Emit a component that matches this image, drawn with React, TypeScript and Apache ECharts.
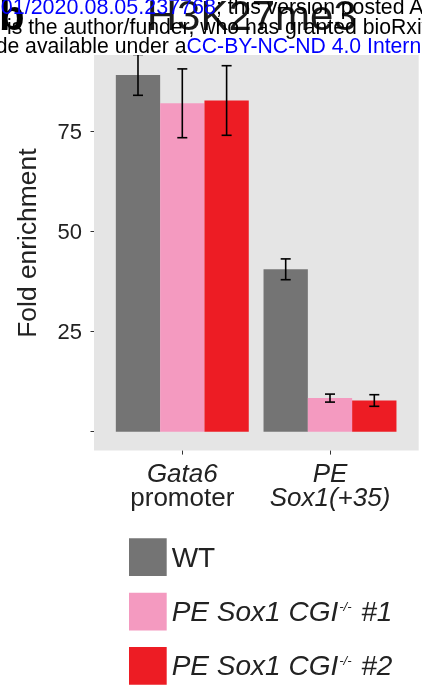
import React, { useEffect, useRef } from 'react';
import * as echarts from 'echarts';

// ---- data ----
const categories = ['Gata6 promoter', 'PE Sox1(+35)'];
const seriesNames = ['WT', 'PE Sox1 CGI-/- #1', 'PE Sox1 CGI-/- #2'];
const wtValues = [89.2, 40.6];
const cgi1Values = [82.1, 8.4];
const cgi2Values = [82.8, 7.8];
const wtErrors = [5.1, 2.6];
const cgi1Errors = [8.6, 1.0];
const cgi2Errors = [8.7, 1.45];
const yMin = 0;
const yMax = 100;
const yInterval = 25;
const hiddenTickLabels = [0, 100];
const colors = ['#747474', '#F49AC0', '#ED1C24'];

const FONT = '"Liberation Sans", Arial, Helvetica, sans-serif';
const TEXT = '#222222';

const categoryLabels: Record<string, string> = {
  'Gata6 promoter': '{i|Gata6}\n{n|promoter}',
  'PE Sox1(+35)': '{i|PE}\n{i|Sox1(+35)}',
};

function legendLabel(name: string): string {
  const m = name.match(/^(.*CGI)(-\/-)(.*)$/);
  if (!m) return `{n|${name}}`;
  return `{i|${m[1]}}{s|${m[2]}}{i|${m[3]}}`;
}

const valueSets = [wtValues, cgi1Values, cgi2Values];
const errorSets = [wtErrors, cgi1Errors, cgi2Errors];

export default function App() {
  const ref = useRef<HTMLDivElement>(null);

  useEffect(() => {
    if (!ref.current) return;
    const chart = echarts.init(ref.current, null, { renderer: 'svg' });

    const errorData: number[][] = [];
    valueSets.forEach((vals, si) => {
      vals.forEach((v, ci) => {
        const e = errorSets[si][ci];
        errorData.push([ci, v - e, v + e, si]);
      });
    });

    const barSeries = seriesNames.map((name, si) => ({
      name,
      type: 'bar',
      xAxisIndex: 1,
      yAxisIndex: 1,
      data: valueSets[si],
      barGap: '0%',
      barCategoryGap: '10%',
      itemStyle: { color: colors[si] },
      z: 2,
    }));

    const baseline = (b: number, fs: number) => b - 0.3465 * fs;
    const HFS = 21.2;

    const option: any = {
      animation: false,
      grid: [
        {
          left: 94,
          right: 3.3,
          top: 35.7,
          bottom: 245.4,
          show: true,
          backgroundColor: '#E5E5E5',
          borderWidth: 0,
        },
        {
          left: 108.45,
          right: 18.15,
          top: 31.7,
          bottom: 264.3,
          show: false,
        },
      ],
      xAxis: [
        { gridIndex: 0, type: 'value', show: false },
        {
          gridIndex: 1,
          type: 'category',
          data: categories,
          offset: 18.9,
          axisLine: { show: false, onZero: false },
          axisTick: { show: true, alignWithLabel: true, length: 4, lineStyle: { color: '#333', width: 1 } },
          axisLabel: {
            margin: 10.4,
            formatter: (v: string) => categoryLabels[v] ?? v,
            rich: {
              i: { fontFamily: FONT, fontSize: 26, fontStyle: 'italic', color: TEXT, lineHeight: 24 },
              n: { fontFamily: FONT, fontSize: 26, color: TEXT, lineHeight: 24 },
            },
          },
          splitLine: { show: false },
        },
      ],
      yAxis: [
        {
          gridIndex: 0,
          type: 'value',
          show: true,
          axisLine: { show: false },
          axisTick: { show: false },
          axisLabel: { show: false },
          splitLine: { show: false },
          name: 'Fold enrichment',
          nameLocation: 'middle',
          nameGap: 54,
          nameTextStyle: { fontSize: 26.4, fontFamily: FONT, color: TEXT },
        },
        {
          gridIndex: 1,
          type: 'value',
          min: yMin,
          max: yMax,
          interval: yInterval,
          offset: 14.45,
          axisLine: { show: false },
          axisTick: { show: true, length: 3.5, lineStyle: { color: '#333', width: 1 } },
          axisLabel: {
            margin: 12,
            fontSize: 22,
            fontFamily: FONT,
            color: TEXT,
            formatter: (v: number) => (hiddenTickLabels.includes(v) ? '' : String(v)),
          },
          splitLine: { show: false },
        },
      ],
      legend: {
        data: seriesNames,
        orient: 'vertical',
        left: 129,
        top: 538.3,
        padding: 0,
        itemWidth: 37.7,
        itemHeight: 37.7,
        itemGap: 16.7,
        icon: 'rect',
        selectedMode: false,
        formatter: legendLabel,
        textStyle: {
          fontFamily: FONT,
          fontSize: 28,
          color: TEXT,
          rich: {
            n: { fontFamily: FONT, fontSize: 28, color: TEXT, lineHeight: 30 },
            i: { fontFamily: FONT, fontSize: 28, fontStyle: 'italic', color: TEXT, lineHeight: 30 },
            s: { fontFamily: FONT, fontSize: 13, fontStyle: 'italic', color: TEXT, lineHeight: 13, verticalAlign: 'top', padding: [3, 2, 0, 1] },
          },
        },
      },
      series: [
        ...barSeries,
        {
          type: 'custom',
          xAxisIndex: 1,
          yAxisIndex: 1,
          z: 3,
          data: errorData,
          encode: { x: 0, y: [1, 2] },
          renderItem: (params: any, api: any) => {
            const ci = api.value(0);
            const lo = api.value(1);
            const hi = api.value(2);
            const si = api.value(3);
            const pLo = api.coord([ci, lo]);
            const pHi = api.coord([ci, hi]);
            const band = api.size([1, 0])[0];
            const barW = (band * 0.9) / 3;
            const x = pLo[0] + (si - 1) * barW;
            const cap = barW * 0.113;
            const style = { stroke: '#000', lineWidth: 1.6, fill: 'none' };
            return {
              type: 'group',
              children: [
                { type: 'line', shape: { x1: x, y1: pHi[1], x2: x, y2: pLo[1] }, style },
                { type: 'line', shape: { x1: x - cap, y1: pHi[1], x2: x + cap, y2: pHi[1] }, style },
                { type: 'line', shape: { x1: x - cap, y1: pLo[1], x2: x + cap, y2: pLo[1] }, style },
              ],
            };
          },
        },
      ],
      graphic: [
        { type: 'rect', z: 100, shape: { x: 0, y: 0, width: 422, height: 55 }, style: { fill: '#ffffff' } },
        {
          type: 'text', z: 101, x: -1, y: baseline(30, 42),
          style: { text: 'b', fontFamily: FONT, fontSize: 42, fontWeight: 'bold', fill: '#000', textAlign: 'left', textVerticalAlign: 'middle' },
        },
        {
          type: 'text', z: 101, x: 146.7, y: baseline(30.5, 42),
          style: { text: 'H3K27me3', fontFamily: FONT, fontSize: 42, fill: '#1a1a1a', textAlign: 'left', textVerticalAlign: 'middle' },
        },
        {
          type: 'text', z: 102, x: 216, y: baseline(14, 21.5),
          style: { text: 'https://doi.org/10.1101/2020.08.05.237768', fontFamily: FONT, fontSize: 21.5, fill: '#0000ff', textAlign: 'right', textVerticalAlign: 'middle' },
        },
        {
          type: 'text', z: 102, x: 216, y: baseline(14, HFS),
          style: { text: '; this version posted August 5, 2020.', fontFamily: FONT, fontSize: HFS, fill: '#000', textAlign: 'left', textVerticalAlign: 'middle' },
        },
        {
          type: 'text', z: 102, x: 7, y: baseline(33.5, HFS),
          style: { text: 'is the author/funder, who has granted bioRxiv a license', fontFamily: FONT, fontSize: HFS, fill: '#000', textAlign: 'left', textVerticalAlign: 'middle' },
        },
        {
          type: 'text', z: 102, x: 186.5, y: baseline(53, HFS),
          style: { text: 'made available under a', fontFamily: FONT, fontSize: HFS, fill: '#000', textAlign: 'right', textVerticalAlign: 'middle' },
        },
        {
          type: 'text', z: 102, x: 186.5, y: baseline(53, HFS),
          style: { text: 'CC-BY-NC-ND 4.0 International license.', fontFamily: FONT, fontSize: HFS, fill: '#0000ff', textAlign: 'left', textVerticalAlign: 'middle' },
        },
      ],
    };

    chart.setOption(option);
    return () => chart.dispose();
  }, []);

  return (
    <div
      ref={ref}
      style={{ position: 'fixed', left: 0, top: 0, width: 422, height: 696 }}
    />
  );
}
